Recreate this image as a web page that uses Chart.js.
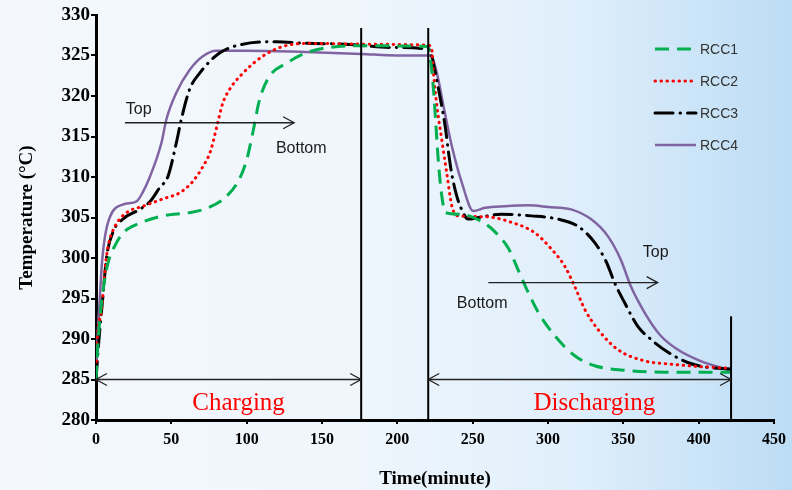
<!DOCTYPE html>
<html>
<head>
<meta charset="utf-8">
<script src="https://cdn.jsdelivr.net/npm/chart.js@4.4.1/dist/chart.umd.min.js"></script>
<style>
  html, body { margin: 0; padding: 0; }
  body {
    width: 792px; height: 490px; overflow: hidden;
    background: linear-gradient(to right, #f4f8fc 0%, #eff6fc 45%, #e0effb 72%, #bcdcf5 100%);
  }
</style>
</head>
<body>
<canvas id="tempChart" width="792" height="490"></canvas>
<script>
// Temperature readings [time (minute), temperature (°C)]
const rcc1 = [[0,285],[1.5,290],[4,295],[8,299.4],[12.5,301.5],[18,303.1],[29,304.3],[44.5,305.2],[62,305.6],[73,306.1],
  [86,307.5],[95,309.7],[100,312.1],[104,315.4],[108.5,319.5],[115,322.4],[126,324],[139,325.3],[155,326],[180,326.2],
  [220,326.1],[222,324.5],[224,320.8],[225.5,316.7],[227,312.5],[229,308.4],[232,305.6],[242,305.4],[256,304.5],[265,303.2],
  [274,301.1],[280,298.6],[287,295.7],[293.5,293.3],[304.5,290.4],[318,287.9],[331,286.7],[353,286.1],[377,285.9],[421,285.9]];

const rcc2 = [[0,285],[0.5,288.7],[3.8,293.7],[6,298.6],[8.1,301.5],[12.6,303.9],[20.3,305.6],[31.3,306.4],[44.5,307.3],[56,308.1],
  [64,309.4],[71,311.3],[76,313.2],[80.8,316.7],[84.1,319.1],[88.6,320.8],[97.4,322.8],[110.6,324.9],[123.8,326.1],[140,326.5],
  [180,326.4],[220,326.3],[222.9,325.7],[224,322.8],[226.3,318.7],[229.5,314.6],[232.8,310.5],[236.2,306.4],[240.6,305.2],[258,305.1],
  [275.8,304.4],[291.3,303.1],[302.3,301.1],[311.1,299],[317.7,296.5],[324.3,293.7],[333.1,291.2],[346.3,288.7],[364,287.3],[381.4,286.9],
  [400,286.6],[421,286.4]];

const rcc3 = [[0,285],[2,290],[4.6,295.3],[7.1,300.2],[11.5,303.3],[17.8,304.8],[29,306],[36,307],[42.3,308.7],[47.8,310.1],
  [53.3,314.2],[56.6,317.1],[62.1,320.8],[68.7,322.8],[82,325.3],[95.2,326.3],[119.4,326.7],[140,326.5],[165,326.4],[195,326],
  [220,325.8],[222,325.5],[224.5,323.5],[227.4,320.8],[231.8,316.2],[234,313],[236,310.5],[239.5,307.6],[242.7,306],[247,304.8],
  [253.8,305],[269,305.4],[289,305.2],[306.7,304.8],[320,303.9],[331,301.9],[338.5,299.6],[344.1,297],[350.8,294.5],[359.5,291.6],
  [368,290],[379.4,288.4],[392.6,287.1],[405.8,286.5],[421,286.3]];

const rcc4 = [[0,285],[1,290],[2.6,295.3],[4,299.5],[6,302.7],[9.3,305.1],[17.8,306.6],[27,307],[31,308.1],[35.7,310],
  [43.4,314.2],[46.7,317.1],[53.3,320.4],[62.1,323.2],[70.9,324.9],[79.8,325.6],[100,325.6],[130,325.5],[176,325.2],[200,325],
  [220,325],[222,325],[226.3,322.8],[230.7,318.7],[236.2,313.8],[242.8,309.3],[250.5,305.8],[258.2,306.2],[271.5,306.4],[287,306.5],
  [300,306.3],[315.3,306],[328.5,304.8],[339.7,302.7],[348.3,299.8],[355,296.5],[364,293.3],[374.8,290.4],[386,288.7],[401,287.3],
  [421,286.1]];

const seriesNames = ['RCC1', 'RCC2', 'RCC3', 'RCC4'];
const xTicks = [0, 50, 100, 150, 200, 250, 300, 350, 400, 450];
const yTicks = [280, 285, 290, 295, 300, 305, 310, 315, 320, 325, 330];

const serif = "'Liberation Serif', 'Times New Roman', serif";
const sans = "'Liberation Sans', Arial, sans-serif";

const toPts = arr => arr.map(p => ({ x: p[0], y: p[1] }));

// Linhas de fase, setas e textos do gráfico
const annotations = {
    id: 'annotations',
    afterDatasetsDraw(chart) {
        const { ctx, scales: { x, y } } = chart;
        const px = v => x.getPixelForValue(v);
        const py = v => y.getPixelForValue(v);

        ctx.save();
        // phase boundaries
        ctx.strokeStyle = '#000';
        ctx.lineWidth = 2;
        [[176, 328.4], [220.5, 328.4], [421.5, 292.8]].forEach(([t, top]) => {
            ctx.beginPath();
            ctx.moveTo(px(t), py(280));
            ctx.lineTo(px(t), py(top));
            ctx.stroke();
        });

        const head = (hx, hy, dir) => {
            ctx.beginPath();
            ctx.moveTo(hx - dir * 11, hy - 6);
            ctx.lineTo(hx, hy);
            ctx.lineTo(hx - dir * 11, hy + 6);
            ctx.stroke();
        };
        const arrow = (t0, t1, temp, both) => {
            const a = px(t0), b = px(t1), h = py(temp);
            ctx.beginPath();
            ctx.moveTo(a, h);
            ctx.lineTo(b, h);
            ctx.stroke();
            head(b, h, 1);
            if (both) head(a, h, -1);
        };

        ctx.strokeStyle = '#222';
        ctx.lineWidth = 1.3;
        arrow(0, 176, 285, true);
        arrow(220.5, 421.5, 285, true);
        arrow(19.2, 131.5, 316.7, false);
        arrow(260.4, 372.8, 296.96, false);

        ctx.fillStyle = '#ff0000';
        ctx.font = '25px ' + serif;
        ctx.textAlign = 'center';
        ctx.textBaseline = 'alphabetic';
        ctx.fillText('Charging', px(94.6), 410);
        ctx.fillText('Discharging', px(330.7), 410);

        ctx.fillStyle = '#1a1a1a';
        ctx.font = '16px ' + sans;
        ctx.textAlign = 'left';
        ctx.textBaseline = 'middle';
        ctx.fillText('Top', px(19.8), py(318.3));
        ctx.fillText('Bottom', px(119.4), py(313.5));
        ctx.fillText('Top', px(362.9), py(300.65));
        ctx.fillText('Bottom', px(239.5), py(294.4));

        // legenda
        const lx = 655, ly = 49, gap = 32;
        chart.data.datasets.forEach((ds, i) => {
            const yy = ly + i * gap;
            ctx.strokeStyle = ds.borderColor;
            ctx.lineWidth = ds.borderWidth;
            ctx.lineCap = ds.borderCapStyle || 'butt';
            ctx.setLineDash(ds.borderDash || []);
            ctx.beginPath();
            ctx.moveTo(lx, yy);
            ctx.lineTo(lx + 41, yy);
            ctx.stroke();
            ctx.setLineDash([]);
            ctx.fillStyle = '#333';
            ctx.font = '14px ' + sans;
            ctx.fillText(ds.label, lx + 45, yy + 1);
        });
        ctx.restore();
    }
};

const ctx1 = document.getElementById('tempChart').getContext('2d');
new Chart(ctx1, {
    type: 'line',
    data: {
        datasets: [
            { label: seriesNames[0], data: toPts(rcc1), borderColor: '#00b050', borderWidth: 3, borderDash: [14, 8] },
            { label: seriesNames[1], data: toPts(rcc2), borderColor: '#ff0000', borderWidth: 3, borderDash: [0.5, 5.5], borderCapStyle: 'round' },
            { label: seriesNames[2], data: toPts(rcc3), borderColor: '#000000', borderWidth: 3, borderDash: [18, 7, 0.5, 7], borderCapStyle: 'round' },
            { label: seriesNames[3], data: toPts(rcc4), borderColor: '#8064a2', borderWidth: 2.5 }
        ]
    },
    options: {
        responsive: false,
        devicePixelRatio: 1,
        animation: false,
        layout: { padding: { left: 0, right: 14, top: 15, bottom: 0 } },
        elements: {
            point: { radius: 0 },
            line: { cubicInterpolationMode: 'monotone', fill: false }
        },
        plugins: {
            legend: { display: false },
            tooltip: { enabled: false }
        },
        scales: {
            x: {
                type: 'linear',
                min: 0, max: 450,
                afterBuildTicks: s => { s.ticks = xTicks.map(v => ({ value: v })); },
                afterFit: s => { s.height = 70; },
                border: { color: '#000', width: 3 },
                grid: { drawOnChartArea: false, drawTicks: true, tickLength: 4, color: '#000', lineWidth: 2 },
                ticks: { color: '#000', padding: 6, maxRotation: 0, font: { family: serif, size: 16, weight: 'bold' } },
                title: { display: true, text: 'Time(minute)', color: '#000', padding: { top: 0, bottom: 0 },
                         font: { family: serif, size: 19, weight: 'bold' } }
            },
            y: {
                type: 'linear',
                min: 280, max: 330,
                afterBuildTicks: s => { s.ticks = yTicks.map(v => ({ value: v })); },
                afterFit: s => { s.width = 96; },
                border: { color: '#000', width: 3 },
                grid: { drawOnChartArea: false, drawTicks: true, tickLength: 5, color: '#000', lineWidth: 2 },
                ticks: { color: '#000', padding: 1, font: { family: serif, size: 19, weight: 'bold' } },
                title: { display: true, text: 'Temperature (°C)', color: '#000', padding: { top: 16, bottom: 0 },
                         font: { family: serif, size: 19, weight: 'bold' } }
            }
        }
    },
    plugins: [annotations]
});
</script>
</body>
</html>
